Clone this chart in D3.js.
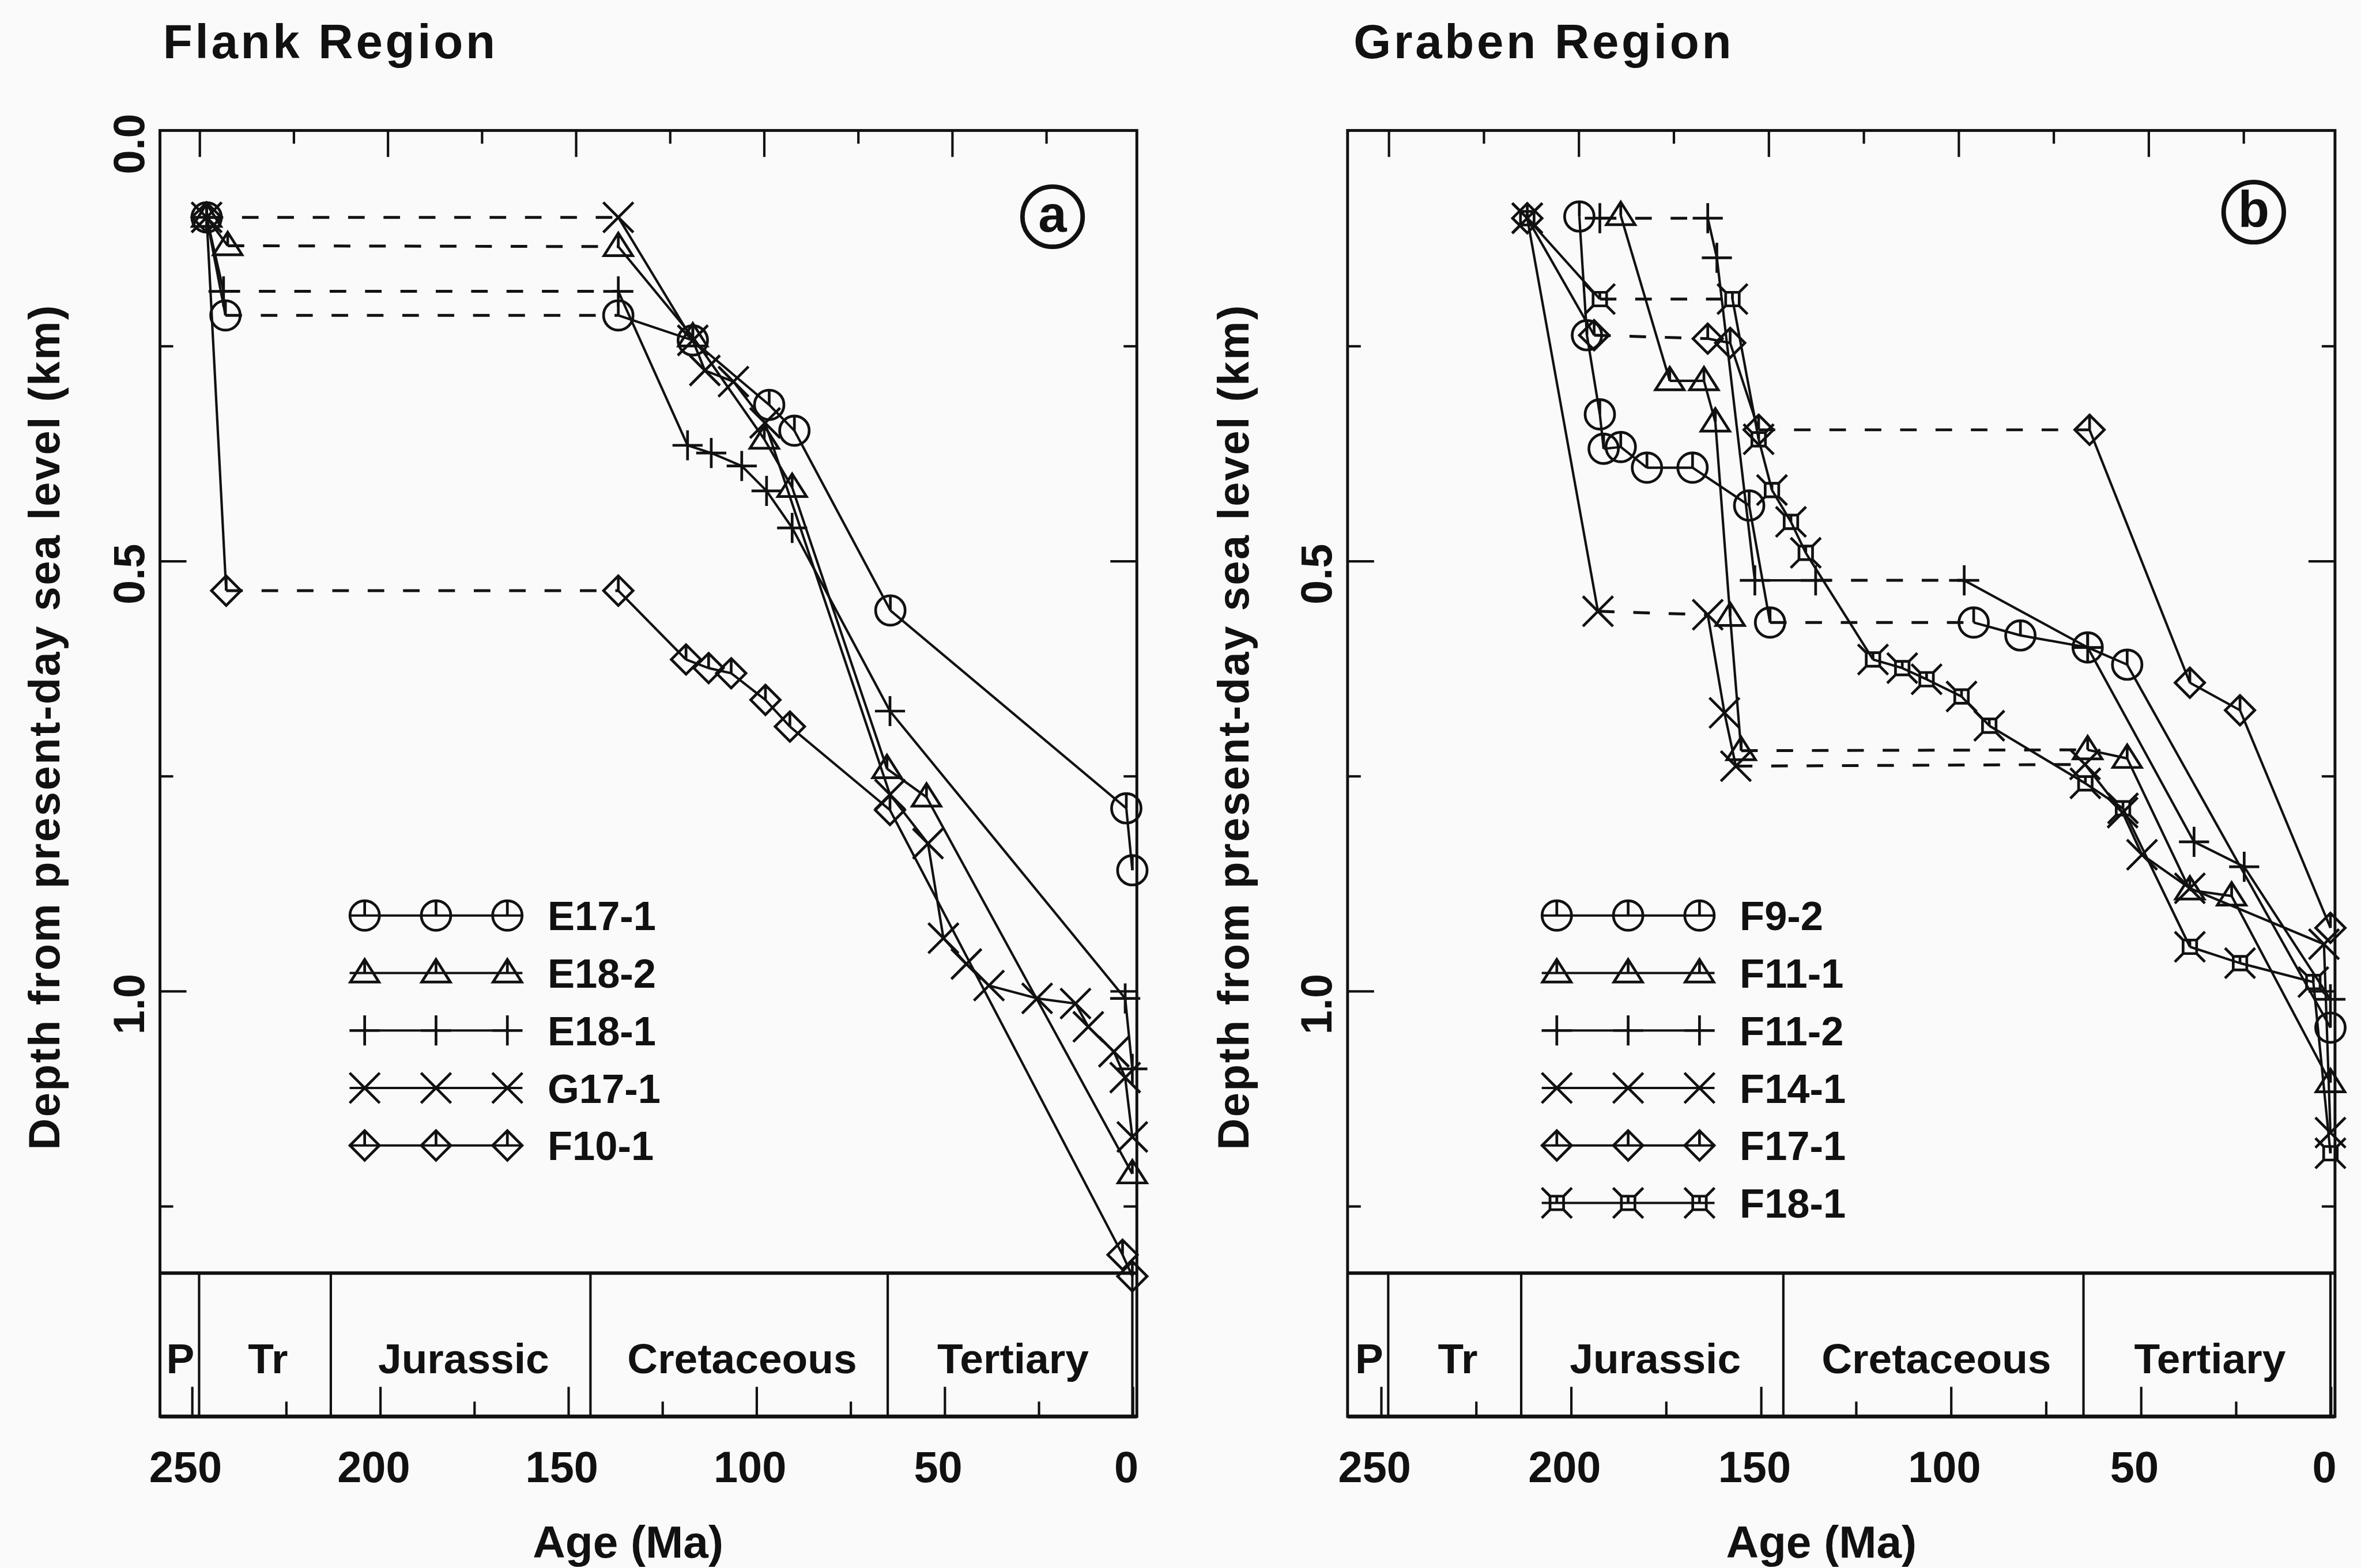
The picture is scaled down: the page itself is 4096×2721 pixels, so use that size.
<!DOCTYPE html>
<html>
<head>
<meta charset="utf-8">
<script src="https://cdn.jsdelivr.net/npm/d3@7"></script>
<style>
  html, body { margin: 0; padding: 0; background: #fafafa; }
  svg { display: block; }
  text { font-family: "Liberation Sans", Arial, Helvetica, sans-serif; font-weight: bold; fill: #111; }
</style>
</head>
<body>
<svg id="chart"></svg>
<script>
// ---- axis values ----
const ageTicks = [250, 200, 150, 100, 50, 0];
const ageMinorTicks = [225, 175, 125, 75, 25];
const topMajorTicks = [248, 198, 148, 98, 48];
const topMinorTicks = [223, 173, 123, 73, 23];
const depthMajorTicks = [0.5, 1.0];
const depthMinorTicks = [0.25, 0.75, 1.25];
const periodBounds = [258, 248, 213, 144, 65, 0];
const periodNames = ["P", "Tr", "Jurassic", "Cretaceous", "Tertiary"];

// ---- Flank region (a) ----
const flankNames = ["E17-1", "E18-2", "E18-1", "G17-1", "F10-1"];
const e171Age = [246, 241, 136.6, 116.8, 96.5, 89.8, 64.3, 1.6, 0];
const e171Depth = [0.101, 0.215, 0.215, 0.244, 0.319, 0.349, 0.558, 0.788, 0.860];
const e182Age = [246, 240.4, 136.6, 116.8, 97.8, 90.4, 65.2, 54.7, 0];
const e182Depth = [0.101, 0.134, 0.135, 0.240, 0.359, 0.415, 0.742, 0.775, 1.213];
const e181Age = [246, 241.5, 136.6, 118.2, 111.9, 103.8, 97.2, 90.4, 64.4, 1.9, 0];
const e181Depth = [0.101, 0.187, 0.187, 0.366, 0.375, 0.390, 0.419, 0.462, 0.675, 1.009, 1.091];
const g171Age = [246, 136.6, 116.8, 113.6, 106.0, 97.6, 64.4, 54.3, 50.2, 44.1, 38.1, 25.3, 15.1, 11.7, 4.9, 1.9, 0];
const g171Depth = [0.101, 0.101, 0.244, 0.279, 0.292, 0.340, 0.772, 0.829, 0.939, 0.969, 0.994, 1.009, 1.015, 1.042, 1.071, 1.101, 1.170];
const f101Age = [246, 240.8, 136.6, 118.6, 112.6, 106.6, 97.5, 91.0, 64.4, 2.6, 0];
const f101Depth = [0.101, 0.535, 0.535, 0.615, 0.625, 0.631, 0.662, 0.693, 0.790, 1.307, 1.332];

// ---- Graben region (b) ----
const grabenNames = ["F9-2", "F11-1", "F11-2", "F14-1", "F17-1", "F18-1"];
const f92Age = [197.7, 195.7, 192.3, 191.3, 186.8, 179.9, 167.9, 153.0, 147.5, 93.9, 81.6, 63.9, 53.5, 0];
const f92Depth = [0.100, 0.238, 0.330, 0.370, 0.368, 0.392, 0.392, 0.436, 0.572, 0.572, 0.587, 0.601, 0.621, 1.043];
const f111Age = [186.8, 173.9, 164.9, 161.9, 158.0, 155.1, 63.9, 53.5, 37.0, 26.0, 0];
const f111Depth = [0.099, 0.291, 0.291, 0.339, 0.565, 0.721, 0.720, 0.730, 0.883, 0.890, 1.107];
const f112Age = [192.3, 163.9, 161.5, 151.5, 135.5, 96.4, 63.9, 35.9, 22.7, 0];
const f112Depth = [0.102, 0.102, 0.148, 0.523, 0.523, 0.523, 0.601, 0.827, 0.856, 1.010];
const f141Age = [211.4, 192.8, 163.9, 159.5, 156.5, 64.6, 54.7, 49.6, 37.0, 1.7, 0];
const f141Depth = [0.102, 0.559, 0.563, 0.677, 0.739, 0.737, 0.793, 0.842, 0.881, 0.946, 1.165];
const f171Age = [211.4, 193.8, 163.9, 158.0, 150.5, 63.4, 37.0, 23.8, 0];
const f171Depth = [0.102, 0.238, 0.242, 0.247, 0.348, 0.348, 0.642, 0.674, 0.927];
const f181Age = [211.4, 192.3, 157.4, 150.5, 147.0, 142.0, 138.1, 120.4, 112.7, 106.3, 97.1, 89.8, 64.5, 54.6, 37.0, 23.8, 4.5, 0];
const f181Depth = [0.102, 0.196, 0.196, 0.359, 0.418, 0.455, 0.491, 0.615, 0.625, 0.638, 0.658, 0.692, 0.759, 0.788, 0.949, 0.968, 0.990, 1.189];

// segments drawn dashed (hiatus), by index of the segment's first point
const flankSeries = [
  { name: flankNames[0], symbol: "circle", ages: e171Age, depths: e171Depth, gaps: [1] },
  { name: flankNames[1], symbol: "triangle", ages: e182Age, depths: e182Depth, gaps: [1] },
  { name: flankNames[2], symbol: "plus", ages: e181Age, depths: e181Depth, gaps: [1] },
  { name: flankNames[3], symbol: "cross", ages: g171Age, depths: g171Depth, gaps: [0] },
  { name: flankNames[4], symbol: "diamond", ages: f101Age, depths: f101Depth, gaps: [1] },
];
const grabenSeries = [
  { name: grabenNames[0], symbol: "circle", ages: f92Age, depths: f92Depth, gaps: [8] },
  { name: grabenNames[1], symbol: "triangle", ages: f111Age, depths: f111Depth, gaps: [5] },
  { name: grabenNames[2], symbol: "plus", ages: f112Age, depths: f112Depth, gaps: [0, 4] },
  { name: grabenNames[3], symbol: "cross", ages: f141Age, depths: f141Depth, gaps: [1, 4] },
  { name: grabenNames[4], symbol: "diamond", ages: f171Age, depths: f171Depth, gaps: [1, 4] },
  { name: grabenNames[5], symbol: "boxcross", ages: f181Age, depths: f181Depth, gaps: [1] },
];

// ---- layout ----
const W = 1568, H = 1042;
const ink = "#111";
const plotTop = 86.7, plotBottom = 941.3, stripTop = 846;

const svg = d3.select("#chart")
  .attr("width", 4096)
  .attr("height", 2721)
  .attr("viewBox", `0 0 ${W} ${H}`);

svg.append("rect").attr("width", W).attr("height", H).attr("fill", "#fafafa");

const y = d3.scaleLinear().domain([0, 1.495]).range([plotTop, plotBottom]);

const panels = [
  { title: "Flank Region", titleX: 108, letter: "a", letterPos: [699, 144],
    xDomain: [258.4, -1.2], xRange: [106, 755], series: flankSeries,
    legendX: 242, yLabels: [0, 0.5, 1.0], yTitleX: 39 },
  { title: "Graben Region", titleX: 899, letter: "b", letterPos: [1497, 141],
    xDomain: [258.7, -1.2], xRange: [895, 1551], series: grabenSeries,
    legendX: 1034, yLabels: [0.5, 1.0], yTitleX: 829 },
];

function drawSymbol(g, type) {
  if (type === "circle") {
    g.append("circle").attr("r", 9.8);
    g.append("path").attr("d", "M0,-9.8V0");
  } else if (type === "triangle") {
    g.append("path").attr("d", "M0,-9L9.5,6H-9.5Z M0,-9V0");
  } else if (type === "plus") {
    g.append("path").attr("d", "M-10,0H10M0,-10V10");
  } else if (type === "cross") {
    g.append("path").attr("d", "M-10,-10L10,10M-10,10L10,-10");
  } else if (type === "diamond") {
    g.append("path").attr("d", "M0,-9.8L9.8,0L0,9.8L-9.8,0Z M0,-9.8V0");
  } else if (type === "boxcross") {
    g.append("path").attr("d",
      "M-4.5,-4.5H4.5V4.5H-4.5Z M-10,-10L-4.5,-4.5M4.5,4.5L10,10M-10,10L-4.5,4.5M4.5,-4.5L10,-10M0,-4.5V0");
  }
}

panels.forEach((p) => {
  const x = d3.scaleLinear().domain(p.xDomain).range(p.xRange);
  const g = svg.append("g");
  const [x0, x1] = p.xRange;

  // title
  g.append("text")
    .attr("x", p.titleX).attr("y", 38.5)
    .attr("font-size", 32).style("letter-spacing", "1.8px")
    .text(p.title);

  // frame
  g.append("rect")
    .attr("x", x0).attr("y", plotTop)
    .attr("width", x1 - x0).attr("height", plotBottom - plotTop)
    .attr("fill", "none").attr("stroke", ink).attr("stroke-width", 1.9);
  g.append("line")
    .attr("x1", x0).attr("x2", x1).attr("y1", plotBottom).attr("y2", plotBottom)
    .attr("stroke", ink).attr("stroke-width", 2.6);

  // geologic time strip
  g.append("line")
    .attr("x1", x0).attr("x2", x1).attr("y1", stripTop).attr("y2", stripTop)
    .attr("stroke", ink).attr("stroke-width", 2.3);
  g.selectAll(".bound")
    .data(periodBounds.slice(1))
    .join("line")
    .attr("x1", (d) => x(d)).attr("x2", (d) => x(d))
    .attr("y1", stripTop).attr("y2", plotBottom)
    .attr("stroke", ink).attr("stroke-width", 1.6);
  g.selectAll(".period")
    .data(periodNames)
    .join("text")
    .attr("x", (d, i) => (x(periodBounds[i]) + x(periodBounds[i + 1])) / 2 + (i === 0 ? 0 : 2))
    .attr("y", 912.5)
    .attr("text-anchor", "middle")
    .attr("font-size", 28)
    .text((d) => d);

  // bottom ticks (inside strip) with labels below
  const bottomAxis = g.append("g")
    .attr("transform", `translate(0,${plotBottom})`)
    .call(d3.axisBottom(x).tickValues(ageTicks).tickSizeInner(-19.7).tickSizeOuter(0)
      .tickPadding(23).tickFormat(d3.format("d")));
  bottomAxis.select(".domain").remove();
  bottomAxis.selectAll("line").attr("stroke", ink).attr("stroke-width", 1.6);
  bottomAxis.selectAll("text").attr("font-size", 29).attr("dx", -4.5);

  const bottomMinor = g.append("g")
    .attr("transform", `translate(0,${plotBottom})`)
    .call(d3.axisBottom(x).tickValues(ageMinorTicks).tickSizeInner(-9.9).tickSizeOuter(0).tickFormat(""));
  bottomMinor.select(".domain").remove();
  bottomMinor.selectAll("line").attr("stroke", ink).attr("stroke-width", 1.6);

  // top ticks
  [[topMajorTicks, 17.6], [topMinorTicks, 8.8]].forEach(([vals, len]) => {
    const a = g.append("g")
      .attr("transform", `translate(0,${plotTop})`)
      .call(d3.axisTop(x).tickValues(vals).tickSizeInner(-len).tickSizeOuter(0).tickFormat(""));
    a.select(".domain").remove();
    a.selectAll("line").attr("stroke", ink).attr("stroke-width", 1.6);
  });

  // left and right ticks
  [[depthMajorTicks, 17.6], [depthMinorTicks, 8.8]].forEach(([vals, len]) => {
    const l = g.append("g")
      .attr("transform", `translate(${x0},0)`)
      .call(d3.axisLeft(y).tickValues(vals).tickSizeInner(-len).tickSizeOuter(0).tickFormat(""));
    const r = g.append("g")
      .attr("transform", `translate(${x1},0)`)
      .call(d3.axisRight(y).tickValues(vals).tickSizeInner(-len).tickSizeOuter(0).tickFormat(""));
    [l, r].forEach((a) => {
      a.select(".domain").remove();
      a.selectAll("line").attr("stroke", ink).attr("stroke-width", 1.6);
    });
  });

  // rotated depth labels
  g.selectAll(".ylab")
    .data(p.yLabels)
    .join("text")
    .attr("transform", (d) => `translate(${x0 - 10.5},${y(d) + 9}) rotate(-90)`)
    .attr("text-anchor", "middle")
    .attr("font-size", 29)
    .text((d) => d3.format(".1f")(d));

  g.append("text")
    .attr("transform", `translate(${p.yTitleX},483) rotate(-90)`)
    .attr("text-anchor", "middle")
    .attr("font-size", 29)
    .style("letter-spacing", "1px")
    .text("Depth from present-day sea level (km)");

  g.append("text")
    .attr("x", x(134)).attr("y", 1035)
    .attr("text-anchor", "middle")
    .attr("font-size", 30)
    .text("Age (Ma)");

  // panel letter
  g.append("circle")
    .attr("cx", p.letterPos[0]).attr("cy", p.letterPos[1]).attr("r", 20)
    .attr("fill", "none").attr("stroke", ink).attr("stroke-width", 3);
  g.append("text")
    .attr("x", p.letterPos[0]).attr("y", p.letterPos[1] + 10)
    .attr("text-anchor", "middle")
    .attr("font-size", 34)
    .text(p.letter);

  // series lines
  p.series.forEach((s) => {
    const segs = d3.pairs(d3.range(s.ages.length)).map(([i, j]) => ({
      x1: x(s.ages[i]), y1: y(s.depths[i]),
      x2: x(s.ages[j]), y2: y(s.depths[j]),
      dashed: s.gaps.includes(i),
    }));
    g.append("g").selectAll("line")
      .data(segs)
      .join("line")
      .attr("x1", (d) => d.x1).attr("y1", (d) => d.y1)
      .attr("x2", (d) => d.x2).attr("y2", (d) => d.y2)
      .attr("stroke", ink)
      .attr("stroke-width", (d) => (d.dashed ? 1.9 : 1.6))
      .attr("stroke-dasharray", (d) => (d.dashed ? "11,12.5" : null));

    const pts = s.ages.map((a, i) => [a, s.depths[i]]);
    g.append("g").selectAll("g")
      .data(pts)
      .join("g")
      .attr("transform", (d) => `translate(${x(d[0])},${y(d[1])})`)
      .attr("fill", "none").attr("stroke", ink).attr("stroke-width", 1.8)
      .each(function () { drawSymbol(d3.select(this), s.symbol); });
  });

  // legend
  const step = 47.4;
  p.series.forEach((s, i) => {
    const ly = 608.4 + i * 38.2;
    const lg = g.append("g");
    lg.append("line")
      .attr("x1", p.legendX - 10).attr("x2", p.legendX + 2 * step + 10)
      .attr("y1", ly).attr("y2", ly)
      .attr("stroke", ink).attr("stroke-width", 1.6);
    [0, 1, 2].forEach((k) => {
      const m = lg.append("g")
        .attr("transform", `translate(${p.legendX + k * step},${ly})`)
        .attr("fill", "none").attr("stroke", ink).attr("stroke-width", 1.8);
      drawSymbol(m, s.symbol);
    });
    lg.append("text")
      .attr("x", p.legendX + 121.5).attr("y", ly + 9.8)
      .attr("font-size", 27)
      .text(s.name);
  });
});
</script>
</body>
</html>
